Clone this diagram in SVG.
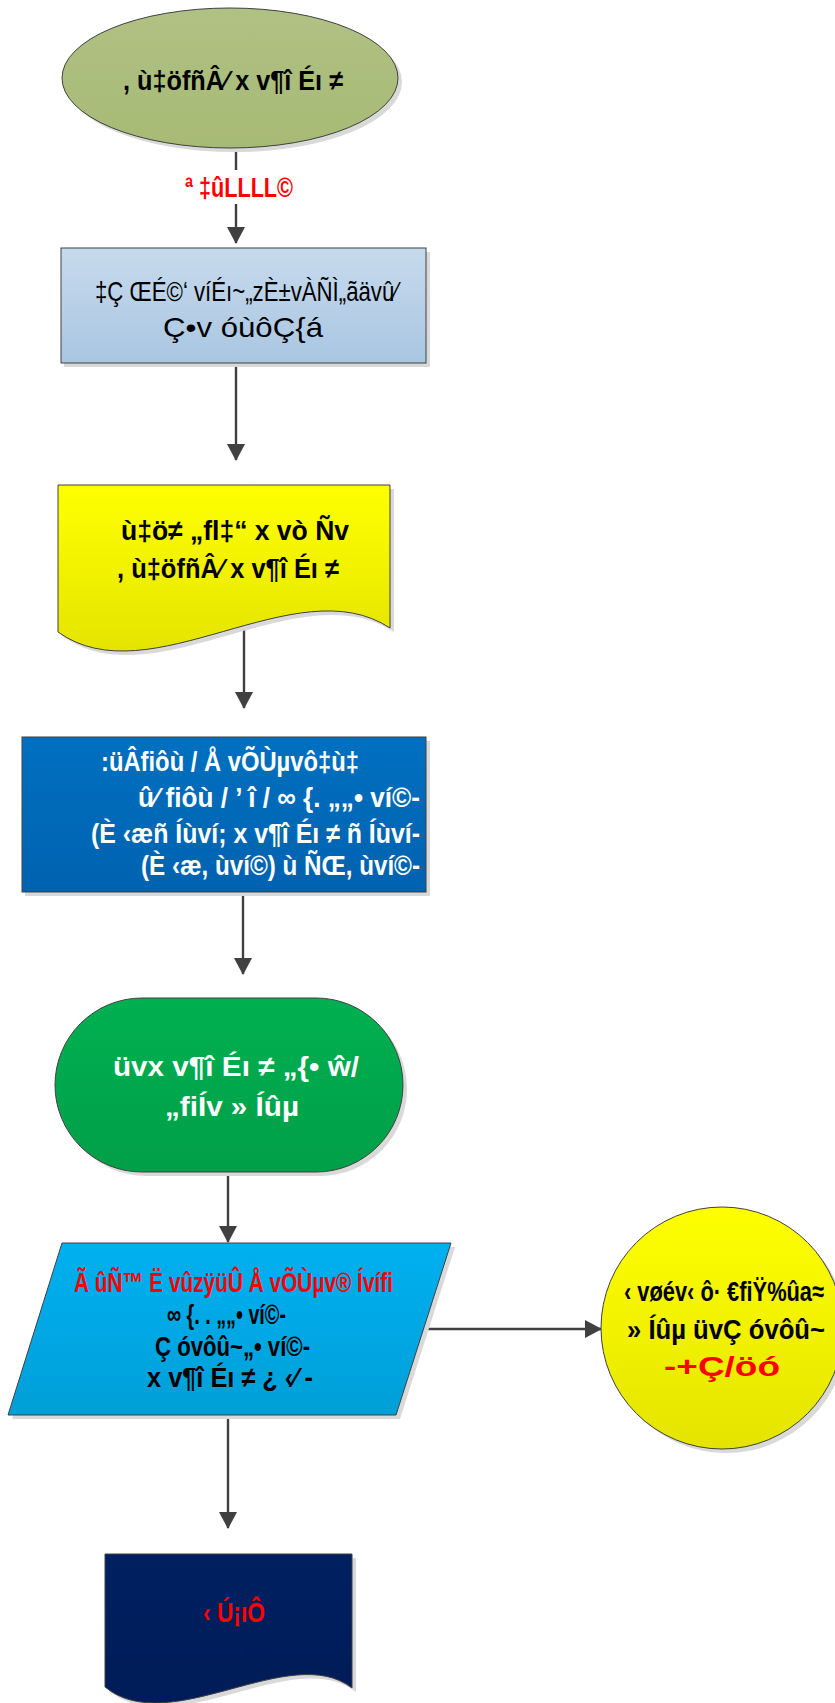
<svg xmlns="http://www.w3.org/2000/svg" width="835" height="1703" viewBox="0 0 835 1703">
<defs>
<style>
.t{font-family:"Liberation Sans",Arial,sans-serif;font-size:28px;text-anchor:start}
.b{font-weight:bold}
.bk{fill:#000}
.wh{fill:#fff}
.rd{fill:#ff0000}
.sh{fill:#d9d9d9}
.st{stroke:#404040;stroke-width:1}
.cn{stroke:#404040;stroke-width:2.4;fill:none;marker-end:url(#ah)}
</style>
<marker id="ah" viewBox="0 0 17 18" refX="16" refY="9" markerWidth="17" markerHeight="18" markerUnits="userSpaceOnUse" orient="auto">
<path d="M0,0 L17,9 L0,18 Z" fill="#404040"/>
</marker>
<linearGradient id="gOl" x1="0" y1="0" x2="0" y2="1"><stop offset="0" stop-color="#b0c184"/><stop offset="1" stop-color="#a7ba75"/></linearGradient>
<linearGradient id="gLb" x1="0" y1="0" x2="0" y2="1"><stop offset="0" stop-color="#c7daed"/><stop offset="1" stop-color="#a9c6e1"/></linearGradient>
<linearGradient id="gYe" x1="0" y1="0" x2="0" y2="1"><stop offset="0" stop-color="#ffff00"/><stop offset="1" stop-color="#e4e400"/></linearGradient>
<linearGradient id="gBl" x1="0" y1="0" x2="0" y2="1"><stop offset="0" stop-color="#0070c0"/><stop offset="1" stop-color="#0062b0"/></linearGradient>
<linearGradient id="gGr" x1="0" y1="0" x2="0" y2="1"><stop offset="0" stop-color="#00b050"/><stop offset="1" stop-color="#009f48"/></linearGradient>
<linearGradient id="gCy" x1="0" y1="0" x2="0" y2="1"><stop offset="0" stop-color="#00b0f0"/><stop offset="1" stop-color="#009fd8"/></linearGradient>
<linearGradient id="gNv" x1="0" y1="0" x2="0" y2="1"><stop offset="0" stop-color="#002060"/><stop offset="1" stop-color="#001c58"/></linearGradient>
</defs>
<rect width="835" height="1703" fill="#fff"/>

<g id="connectors">
<line class="cn" x1="236" y1="148" x2="236" y2="243"/>
<line class="cn" x1="236" y1="364" x2="236" y2="460"/>
<line class="cn" x1="244" y1="628" x2="244" y2="708"/>
<line class="cn" x1="243" y1="892" x2="243" y2="974"/>
<line class="cn" x1="228" y1="1172" x2="228" y2="1242"/>
<line class="cn" x1="228" y1="1415" x2="228" y2="1528"/>
<line class="cn" x1="420" y1="1329" x2="601" y2="1329"/>
<rect x="180" y="170" width="118" height="34" fill="#fff"/>
<text class="t b rd" x="185" y="197" font-size="25" textLength="108" lengthAdjust="spacingAndGlyphs">ª ‡ûLLLL©</text>
</g>

<g id="start">
<ellipse class="sh" cx="234" cy="82" rx="168" ry="70"/>
<ellipse class="st" cx="230" cy="78" rx="168" ry="70" fill="url(#gOl)"/>
<text class="t b bk" x="123" y="90" font-size="29" textLength="220" lengthAdjust="spacingAndGlyphs">, ù‡öfñÂ⁄ x v¶î Éı ≠</text>
</g>

<g id="process1">
<rect class="sh" x="64" y="252" width="366" height="115"/>
<rect class="st" x="61" y="248" width="365" height="115" fill="url(#gLb)"/>
<text class="t bk" x="95" y="301" font-size="29" textLength="303" lengthAdjust="spacingAndGlyphs">‡Ç ŒÉ©‘ víÉı~„zÈ±vÀÑÌ„ãävû⁄</text>
<text class="t bk" x="163" y="337" font-size="29" textLength="160" lengthAdjust="spacingAndGlyphs">Ç•v óùôÇ{á</text>
</g>

<g id="document1">
<path class="sh" d="M62,489 H394 V632 C300,570 154,702 62,636 Z"/>
<path class="st" d="M58,485 H390 V628 C296,566 150,698 58,632 Z" fill="url(#gYe)"/>
<text class="t b bk" x="121" y="540" font-size="29" textLength="228" lengthAdjust="spacingAndGlyphs">ù‡ö≠ „fl‡“ x vò Ñv</text>
<text class="t b bk" x="117" y="578" font-size="29" textLength="222" lengthAdjust="spacingAndGlyphs">, ù‡öfñÂ⁄ x v¶î Éı ≠</text>
</g>

<g id="process2">
<rect class="sh" x="25" y="741" width="405" height="155"/>
<rect class="st" x="22" y="737" width="404" height="155" fill="url(#gBl)"/>
<text class="t b wh" x="101" y="771" font-size="27" textLength="258" lengthAdjust="spacingAndGlyphs">:üÂfiôù / Å vÕÙµvô‡ù‡</text>
<text class="t b wh" x="138" y="807" font-size="27" textLength="282" lengthAdjust="spacingAndGlyphs">û⁄ fiôù / ’ î / ∞ {. „„• ví©-</text>
<text class="t b wh" x="91" y="843" font-size="27" textLength="329" lengthAdjust="spacingAndGlyphs">(È ‹æñ Íùví; x v¶î Éı ≠ ñ Íùví-</text>
<text class="t b wh" x="141" y="875" font-size="27" textLength="279" lengthAdjust="spacingAndGlyphs">(È ‹æ, ùví©) ù ÑŒ, ùví©-</text>
</g>

<g id="terminal">
<rect class="sh" x="59" y="1002" width="348" height="174" rx="87"/>
<rect class="st" x="55" y="998" width="348" height="174" rx="87" fill="url(#gGr)"/>
<text class="t b wh" x="113" y="1076" font-size="29" textLength="246" lengthAdjust="spacingAndGlyphs">üvx v¶î Éı ≠ „{• ŵ/</text>
<text class="t b wh" x="165" y="1116" font-size="29" textLength="134" lengthAdjust="spacingAndGlyphs">„fiÍv » Íûµ</text>
</g>

<g id="data">
<polygon class="sh" points="66,1247 455,1247 400,1419 12,1419"/>
<polygon class="st" points="62,1243 451,1243 396,1415 8,1415" fill="url(#gCy)"/>
<text class="t b rd" x="74" y="1292" font-size="28" textLength="319" lengthAdjust="spacingAndGlyphs">Ã ûÑ™ Ë vûzÿüÛ Å vÕÙµv® Ívífi</text>
<text class="t b bk" x="167" y="1324" font-size="27" textLength="119" lengthAdjust="spacingAndGlyphs">∞ {. . „„• ví©-</text>
<text class="t b bk" x="155" y="1356" font-size="27" textLength="155" lengthAdjust="spacingAndGlyphs">Ç óvôû~„• ví©-</text>
<text class="t b bk" x="147" y="1387" font-size="27" textLength="166" lengthAdjust="spacingAndGlyphs">x v¶î Éı ≠ ¿ ‹⁄ -</text>
</g>

<g id="connector-circle">
<circle class="sh" cx="726" cy="1332" r="121"/>
<circle class="st" cx="722" cy="1328" r="121" fill="url(#gYe)"/>
<text class="t b bk" x="624" y="1301" font-size="25" textLength="200" lengthAdjust="spacingAndGlyphs">‹ vøév‹ ô· €fiŸ%ûa≈</text>
<text class="t b bk" x="627" y="1339" font-size="26" textLength="198" lengthAdjust="spacingAndGlyphs">» Íûµ üvÇ óvôû~</text>
<text class="t b rd" x="664" y="1376" font-size="29" textLength="116" lengthAdjust="spacingAndGlyphs">-+Ç/öó</text>
</g>

<g id="document2">
<path class="sh" d="M109,1558 H356 V1692 C294,1644 174,1744 109,1691 Z"/>
<path class="st" d="M105,1554 H352 V1688 C290,1640 170,1740 105,1687 Z" fill="url(#gNv)"/>
<text class="t b rd" x="203" y="1622" font-size="26" textLength="62" lengthAdjust="spacingAndGlyphs">‹ Ú¡ıÔ</text>
</g>
</svg>
